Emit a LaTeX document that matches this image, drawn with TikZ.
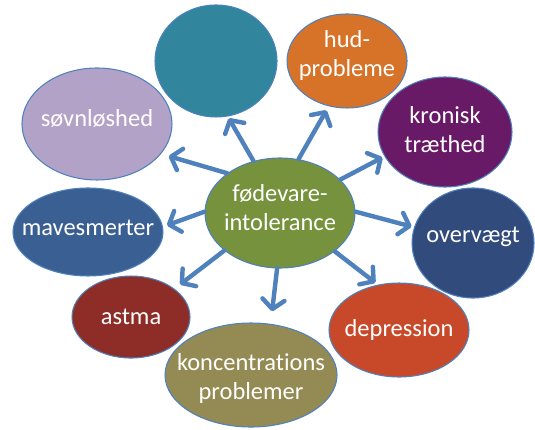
\documentclass[tikz,border=0pt]{standalone}
\usepackage{fontspec}
\setmainfont{Carlito}[Ligatures=NoCommon]
\usepackage{xcolor}
\usepackage{tikz}
\usetikzlibrary{shapes,arrows.meta}

\definecolor{rim}{HTML}{4F81BD}
\definecolor{coregreen}{HTML}{76923C}
\definecolor{tealblob}{HTML}{31859C}
\definecolor{hudorange}{HTML}{D77328}
\definecolor{kronpurple}{HTML}{691A66}
\definecolor{overnavy}{HTML}{324B7D}
\definecolor{depred}{HTML}{C8492A}
\definecolor{koncolive}{HTML}{948A54}
\definecolor{astred}{HTML}{8E2D27}
\definecolor{maveblue}{HTML}{3A5F92}
\definecolor{sovnlilac}{HTML}{B3A2C7}

\begin{document}
\begin{tikzpicture}[
    blob/.style={ellipse,draw=rim,line width=1pt,inner sep=0pt},
    txt/.style={text=white,align=center,inner sep=0pt,font=\fontsize{23.2}{27.5}\selectfont},
    arr/.style={rim,line width=4.2pt,line cap=round,-{Straight Barb[length=9pt,width=21pt,round]}}
  ]
    \useasboundingbox (0,0) rectangle (17.833,-14.3);

    \node [blob,fill=coregreen,minimum width=5cm,minimum height=3.667cm] (core) at (9.333,-7.1) {};
    \node [blob,fill=tealblob,minimum width=4.067cm,minimum height=3.733cm] (teal) at (7.2,-2.033) {};
    \node [blob,fill=hudorange,minimum width=4cm,minimum height=3.133cm] (hud) at (11.567,-2.033) {};
    \node [blob,fill=kronpurple,minimum width=4.467cm,minimum height=3.667cm] (kron) at (14.833,-4.4) {};
    \node [blob,fill=overnavy,minimum width=4.067cm,minimum height=3.667cm] (over) at (15.767,-8.1) {};
    \node [blob,fill=depred,minimum width=4.667cm,minimum height=3.133cm] (dep) at (13.3,-11) {};
    \node [blob,fill=koncolive,minimum width=5.733cm,minimum height=3.467cm] (konc) at (8.367,-12.5) {};
    \node [blob,fill=astred,minimum width=3.933cm,minimum height=2.733cm] (ast) at (4.367,-10.567) {};
    \node [blob,fill=maveblue,minimum width=5cm,minimum height=2.933cm] (mave) at (2.933,-7.733) {};
    \node [blob,fill=sovnlilac,minimum width=5cm,minimum height=3.733cm] (sovn) at (3.233,-4.133) {};

    % labels
    \node [txt,yshift=0.17cm] (core-t) at (core) {fødevare-\\intolerance};
    \node [txt,yshift=0.2cm] (hud-t) at (hud) {hud-\\probleme};
    \node [txt,yshift=0.07cm] (kron-t) at (kron) {kronisk\\træthed};
    \node [txt,yshift=0.2cm] (over-t) at (over) {overvægt};
    \node [txt] (dep-t) at (dep) {depression};
    \node [txt,yshift=-0.1cm] (konc-t) at (konc) {koncentrations\\problemer};
    \node [txt] (ast-t) at (ast) {astma};
    \node [txt,yshift=0.13cm] (mave-t) at (mave) {mavesmerter};
    \node [txt,yshift=0.2cm] (sovn-t) at (sovn) {søvnløshed};

    \draw [arr,shorten >=2pt] (core.117) -- (teal.-78);
    \draw [arr,shorten >=4.4pt] (core.71) -- (hud.248);
    \draw [arr,shorten >=2pt] (core.29) -- (kron.202);
    \draw [arr,shorten >=2.4pt] (core.1) -- (over.165);
    \draw [arr,shorten >=3pt] (core.-35) -- (dep.115);
    \draw [arr,shorten >=12pt] (core.-93) -- (konc.69);
    \draw [arr,shorten >=6.6pt] (core.-146) -- (ast.33);
    \draw [arr,shorten >=4pt] (core.179) -- (mave.4);
    \draw [arr,shorten >=7.6pt] (core.143) -- (sovn.-25);
  \end{tikzpicture}
\end{document}
